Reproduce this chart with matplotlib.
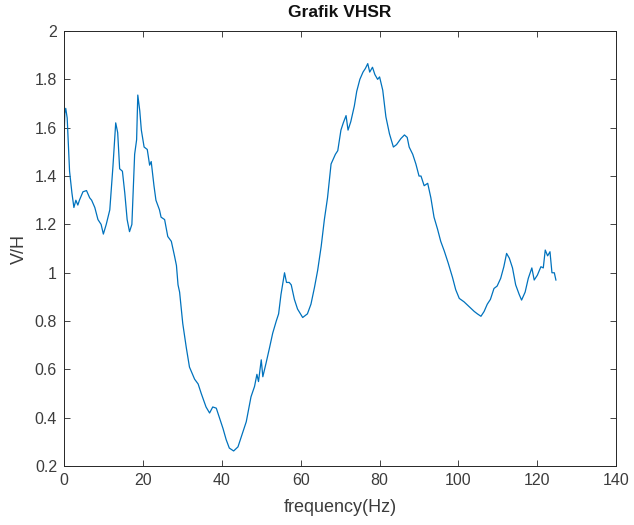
import matplotlib
matplotlib.use('Agg')
import matplotlib.pyplot as plt

# nilai dibaca dari grafik referensi
freq = [0, 0.2, 0.43, 0.8, 1.4, 2.0, 2.5, 3.0, 3.5, 3.9, 4.4, 4.8, 5.7, 6.5, 7.0,
        7.8, 8.6, 9.4, 9.97, 10.7, 11.6, 12.4, 13.1, 13.6, 14.1, 14.8, 15.4, 16.0,
        16.6, 17.2, 17.9, 18.4, 18.7, 19.2, 19.6, 20.3, 21.1, 21.7, 22.1, 22.8,
        23.3, 24.2, 24.6, 25.5, 26.3, 27.2, 28.0, 28.5, 28.9, 29.3, 29.6, 30.1,
        31.0, 31.8, 33.1, 34.0, 34.8, 36.0, 36.9, 37.7, 38.6, 39.4, 40.3, 41.1,
        41.9, 43.0, 44.1, 44.9, 46.2, 47.4, 48.3, 48.9, 49.3, 50.0, 50.4, 51.2,
        52.1, 52.9, 53.8, 54.4, 55.0, 55.9, 56.4, 57.1, 57.6, 58.4, 59.2, 60.5,
        61.7, 62.6, 63.5, 64.3, 65.2, 66.0, 66.8, 67.7, 68.8, 69.4, 70.2, 70.8,
        71.5, 72.0, 72.7, 73.6, 74.2, 75.0, 75.8, 76.4, 77.0, 77.5, 78.2, 78.8,
        79.5, 80.0, 80.8, 81.6, 82.5, 83.5, 84.3, 85.4, 86.3, 87.0, 87.5, 88.4,
        89.2, 90.0, 90.5, 91.3, 92.2, 93.0, 93.8, 94.7, 95.5, 96.4, 97.4, 98.5,
        99.3, 100.2, 101.4, 102.7, 104.0, 104.8, 105.7, 106.5, 107.3, 108.1,
        109.0, 109.8, 110.7, 111.5, 112.2, 112.9, 113.7, 114.5, 115.4, 116.0,
        116.9, 117.7, 118.6, 119.2, 120.0, 120.9, 121.5, 122.0, 122.6, 123.2,
        123.7, 124.3, 124.7]
vhsr = [1.55, 1.66, 1.68, 1.64, 1.42, 1.33, 1.27, 1.30, 1.28, 1.30, 1.32, 1.335,
        1.34, 1.31, 1.30, 1.27, 1.22, 1.20, 1.16, 1.20, 1.26, 1.44, 1.62, 1.58,
        1.43, 1.42, 1.33, 1.22, 1.17, 1.20, 1.49, 1.55, 1.735, 1.67, 1.59, 1.52,
        1.51, 1.445, 1.46, 1.36, 1.30, 1.26, 1.23, 1.22, 1.15, 1.13, 1.07, 1.03,
        0.95, 0.92, 0.87, 0.79, 0.69, 0.61, 0.56, 0.54, 0.50, 0.445, 0.42, 0.445,
        0.44, 0.40, 0.356, 0.31, 0.275, 0.263, 0.28, 0.32, 0.384, 0.487, 0.53,
        0.58, 0.55, 0.64, 0.57, 0.625, 0.69, 0.75, 0.80, 0.83, 0.91, 1.0, 0.96,
        0.96, 0.95, 0.89, 0.85, 0.815, 0.83, 0.87, 0.94, 1.01, 1.11, 1.22, 1.31,
        1.45, 1.49, 1.505, 1.59, 1.62, 1.65, 1.59, 1.625, 1.69, 1.75, 1.80, 1.83,
        1.845, 1.865, 1.83, 1.85, 1.82, 1.80, 1.81, 1.755, 1.645, 1.575, 1.52,
        1.53, 1.555, 1.57, 1.56, 1.52, 1.49, 1.45, 1.40, 1.40, 1.36, 1.37, 1.31,
        1.23, 1.18, 1.13, 1.09, 1.04, 0.98, 0.93, 0.894, 0.88, 0.86, 0.84, 0.83,
        0.82, 0.84, 0.87, 0.89, 0.935, 0.945, 0.977, 1.025, 1.08, 1.06, 1.02,
        0.95, 0.91, 0.887, 0.92, 0.977, 1.02, 0.97, 0.99, 1.025, 1.02, 1.094,
        1.07, 1.087, 1.0, 1.0, 0.97]

x_ticks = [0, 20, 40, 60, 80, 100, 120, 140]
y_ticks = [0.2, 0.4, 0.6, 0.8, 1.0, 1.2, 1.4, 1.6, 1.8, 2.0]
y_labels = ['0.2', '0.4', '0.6', '0.8', '1', '1.2', '1.4', '1.6', '1.8', '2']

plt.rcParams['font.family'] = ['Liberation Sans', 'DejaVu Sans']
axis_color = '#262626'
text_color = '#3c3c3c'

fig = plt.figure(figsize=(6.34, 5.25), dpi=100)
ax = fig.add_axes([0.101, 0.112, 0.871, 0.829])

ax.plot(freq, vhsr, color='#0072BD', linewidth=0.9)

ax.set_xlim(0, 140)
ax.set_ylim(0.2, 2)
ax.set_xticks(x_ticks)
ax.set_yticks(y_ticks)
ax.set_yticklabels(y_labels)

ax.tick_params(direction='in', top=True, right=True, length=4, width=0.6,
               labelsize=11.5, color=axis_color, labelcolor=text_color, pad=5)
for s in ax.spines.values():
    s.set_color(axis_color)
    s.set_linewidth(0.7)

ax.set_xlabel('frequency(Hz)', fontsize=13, color=text_color, labelpad=8)
ax.set_ylabel('V/H', fontsize=13, color=text_color, labelpad=5)
ax.set_title('Grafik VHSR', fontsize=12.5, fontweight='bold', color='#111111', pad=10)

plt.savefig('out.png', dpi=100, facecolor='white')
plt.close()
